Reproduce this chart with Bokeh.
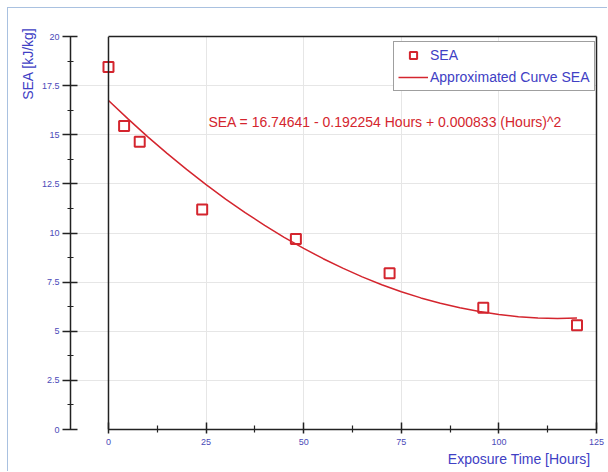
from bokeh.plotting import figure
from bokeh.models import (Range1d, LinearAxis, FixedTicker, Grid, Span, Label, Title)
from bokeh.embed import file_html
from bokeh.resources import INLINE

# ---- data ----
hours = [0, 4, 8, 24, 48, 72, 96, 120]
sea = [18.45, 15.45, 14.65, 11.2, 9.7, 7.95, 6.2, 5.3]

# approximated curve samples (SEA = 16.74641 - 0.192254 Hours + 0.000833 Hours^2)
curve_hours = [0, 5, 10, 15, 20, 25, 30, 35, 40, 45, 50, 55, 60, 65, 70, 75, 80, 85, 90, 95, 100, 105, 110, 115, 120]
curve_sea = [16.746, 15.806, 14.907, 14.050, 13.234, 12.460, 11.728, 11.038, 10.389, 9.782,
             9.216, 8.692, 8.210, 7.769, 7.370, 7.013, 6.697, 6.423, 6.191, 6.000,
             5.851, 5.743, 5.678, 5.653, 5.671]

x_ticks = [0, 25, 50, 75, 100, 125]
x_minor = [12.5, 37.5, 62.5, 87.5, 112.5]
y_ticks = [0, 2.5, 5, 7.5, 10, 12.5, 15, 17.5, 20]
y_tick_labels = ["0", "2.5", "5", "7.5", "10", "12.5", "15", "17.5", "20"]
y_minor = [1.25, 3.75, 6.25, 8.75, 11.25, 13.75, 16.25, 18.75]

equation = "SEA = 16.74641 - 0.192254 Hours + 0.000833 (Hours)^2"
x_title = "Exposure Time [Hours]"
y_title = "SEA [kJ/kg]"

FONT = "Liberation Sans"
RED = "#d4252e"
BLUE = "#4040c4"
TICKBLUE = "#4a4ab8"
DARK = "#222222"

p = figure(width=600, height=464,
           x_range=Range1d(-9.73, 125), y_range=Range1d(0, 20),
           output_backend="svg", toolbar_location=None,
           x_axis_location=None, y_axis_location=None,
           min_border_left=62, min_border_right=12,
           min_border_top=28, min_border_bottom=43)
p.outline_line_color = None
p.background_fill_color = "white"
p.border_fill_color = "white"
p.styles = {"margin-left": "7px", "margin-top": "7px",
            "border-left": "1px solid #a9c1e0", "border-top": "1px solid #a9c1e0"}
for g in p.grid:
    g.visible = False

xt = FixedTicker(ticks=x_ticks, minor_ticks=x_minor)
yt = FixedTicker(ticks=y_ticks, minor_ticks=y_minor)

# grids
xg = Grid(dimension=0, ticker=xt, grid_line_color="#e6e6e6", bounds=(0, 125))
yg = Grid(dimension=1, ticker=yt, grid_line_color="#e6e6e6", bounds=(0, 125))
p.add_layout(xg, "center")
p.add_layout(yg, "center")

# bottom axis
xa = LinearAxis(ticker=xt, bounds=(0, 125))
xa.axis_line_color = DARK
xa.axis_line_width = 1.5
xa.major_tick_line_color = DARK
xa.minor_tick_line_color = DARK
xa.major_tick_line_width = 1.5
xa.minor_tick_line_width = 1.2
xa.major_tick_in = 7
xa.major_tick_out = 4
xa.minor_tick_in = 4
xa.minor_tick_out = 3
xa.major_label_standoff = 5
xa.major_label_text_font = FONT
xa.major_label_text_font_size = "9px"
xa.major_label_text_color = TICKBLUE
p.add_layout(xa, "below")

# left axis
ya = LinearAxis(ticker=yt)
ya.major_label_overrides = {t: s for t, s in zip(y_ticks, y_tick_labels)}
ya.axis_line_color = DARK
ya.axis_line_width = 1.5
ya.major_tick_line_color = DARK
ya.minor_tick_line_color = DARK
ya.major_tick_line_width = 1.5
ya.minor_tick_line_width = 1.2
ya.major_tick_in = 7
ya.major_tick_out = 8
ya.minor_tick_in = 3
ya.minor_tick_out = 3
ya.major_label_standoff = 3
ya.major_label_text_font = FONT
ya.major_label_text_font_size = "9px"
ya.major_label_text_color = TICKBLUE
p.add_layout(ya, "left")

# top frame line
ta = LinearAxis(ticker=FixedTicker(ticks=[]), bounds=(0, 125))
ta.axis_line_color = DARK
ta.axis_line_width = 1.5
ta.major_tick_line_color = None
ta.minor_tick_line_color = None
ta.major_label_text_font_size = "0px"
p.add_layout(ta, "above")

# right frame line
ra = LinearAxis(ticker=FixedTicker(ticks=[]))
ra.axis_line_color = DARK
ra.axis_line_width = 1.5
ra.major_tick_line_color = None
ra.minor_tick_line_color = None
ra.major_label_text_font_size = "0px"
p.add_layout(ra, "right")

# left frame line at x = 0
p.add_layout(Span(location=0, dimension="height", line_color=DARK, line_width=1.5))

# axis titles
p.add_layout(Title(text=x_title, align="right", offset=6, standoff=2,
                   text_font=FONT, text_font_size="14px", text_font_style="normal",
                   text_color=BLUE), "below")
p.add_layout(Title(text=y_title, align="right", offset=-9, standoff=6,
                   text_font=FONT, text_font_size="14px", text_font_style="normal",
                   text_color=BLUE), "left")

# data
p.line(curve_hours, curve_sea, line_color=RED, line_width=1.5,
       legend_label="Approximated Curve SEA")
p.scatter(hours, sea, marker="square", size=10, line_color=RED, line_width=2,
          fill_alpha=0, legend_label="SEA")

# equation text
p.add_layout(Label(x=25.6, y=15.67, text=equation, text_font=FONT,
                   text_font_size="14px", text_color=RED, text_baseline="middle"))

# legend
lg = p.legend[0]
lg.items = list(reversed(lg.items))
lg.location = (323, 338)
lg.border_line_color = "#404040"
lg.border_line_width = 1.5
lg.background_fill_color = "white"
lg.background_fill_alpha = 1
lg.label_text_font = FONT
lg.label_text_font_size = "14px"
lg.label_text_color = BLUE
lg.glyph_width = 30
lg.glyph_height = 18
lg.label_height = 18
lg.label_standoff = 2
lg.padding = 4
lg.spacing = 4
lg.margin = 0

open("out.html", "w").write(file_html(p, INLINE))
